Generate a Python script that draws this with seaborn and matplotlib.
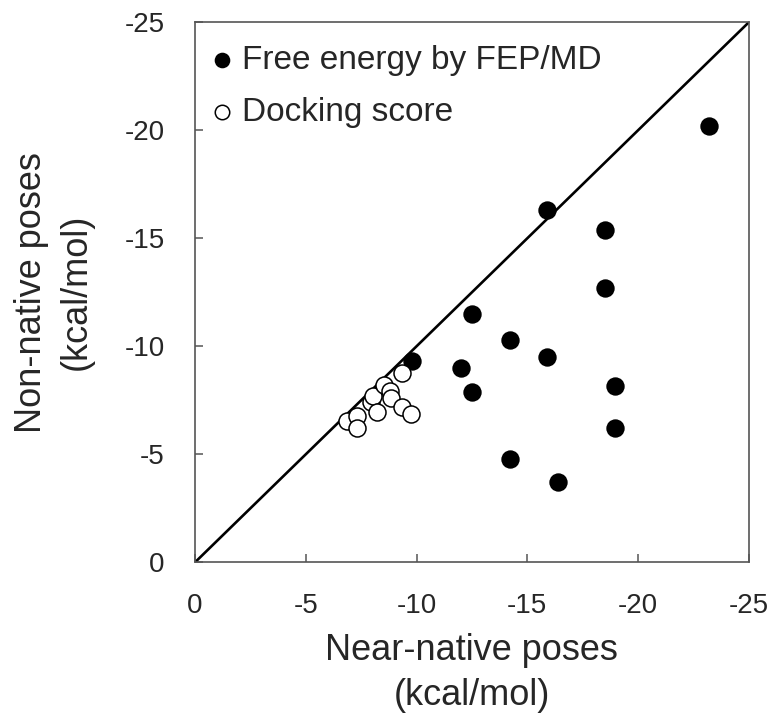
import pandas as pd
import matplotlib
matplotlib.use("Agg")
import matplotlib.pyplot as plt
import seaborn as sns

# -------------------------------
# DATA (kcal/mol)
# -------------------------------
fep_near = [-23.2, -15.9, -18.5, -18.5, -12.5, -14.2, -15.9, -9.8, -12.0, -12.5, -18.95, -18.95, -14.2, -16.4]
fep_non = [-20.2, -16.3, -15.4, -12.7, -11.5, -10.3, -9.5, -9.3, -9.0, -7.9, -8.15, -6.2, -4.8, -3.7]

dock_near = [-6.85, -7.3, -7.3, -7.95, -8.05, -8.2, -8.55, -8.8, -8.85, -9.35, -9.35, -9.75]
dock_non = [-6.55, -6.75, -6.2, -7.4, -7.7, -6.95, -8.2, -7.95, -7.6, -8.75, -7.2, -6.85]

diag = [0, -25]
ticks = [0, -5, -10, -15, -20, -25]
tick_labels = ["0", "-5", "-10", "-15", "-20", "-25"]

LABEL_FEP = "Free energy by FEP/MD"
LABEL_DOCK = "Docking score"
SPINE_COLOR = "#555555"


# -------------------------------
# PLOT
# -------------------------------
def make_plot():
    sns.set_style("white")
    plt.rcParams["font.family"] = ["Liberation Sans", "DejaVu Sans"]

    fig = plt.figure(figsize=(7.68, 7.19), dpi=100)
    ax = fig.add_axes([0.254, 0.218, 0.721, 0.751])

    sns.lineplot(x=diag, y=diag, ax=ax, color="black", linewidth=1.9, zorder=1)

    df_fep = pd.DataFrame({"near": fep_near, "non": fep_non})
    df_dock = pd.DataFrame({"near": dock_near, "non": dock_non})

    sns.scatterplot(data=df_fep, x="near", y="non", ax=ax, s=175, color="black",
                    edgecolor="black", linewidth=0, label=LABEL_FEP, zorder=3)
    sns.scatterplot(data=df_dock, x="near", y="non", ax=ax, s=150, color="white",
                    edgecolor="black", linewidth=1.1, label=LABEL_DOCK, zorder=4)

    ax.set_xlim(0, -25)
    ax.set_ylim(0, -25)
    ax.set_xticks(ticks)
    ax.set_xticklabels(tick_labels)
    ax.set_yticks(ticks)
    ax.set_yticklabels(tick_labels)

    ax.tick_params(axis="both", direction="in", length=6, width=1.1,
                   color=SPINE_COLOR, labelsize=20, pad=22,
                   bottom=True, left=True, top=False, right=False)
    for sp in ax.spines.values():
        sp.set_color(SPINE_COLOR)
        sp.set_linewidth(1.2)

    ax.set_xlabel("Near-native poses\n(kcal/mol)", fontsize=26, labelpad=10,
                  linespacing=1.38)
    ax.set_ylabel("Non-native poses\n(kcal/mol)", fontsize=26, labelpad=22,
                  linespacing=1.35)

    ax.legend(loc="upper left", bbox_to_anchor=(0.031, 0.958), frameon=False,
              fontsize=24, markerscale=0.85, handlelength=0.6, handletextpad=0.3,
              labelspacing=0.62, borderpad=0, borderaxespad=0)

    fig.savefig("out.png", dpi=100)


if __name__ == "__main__":
    make_plot()
